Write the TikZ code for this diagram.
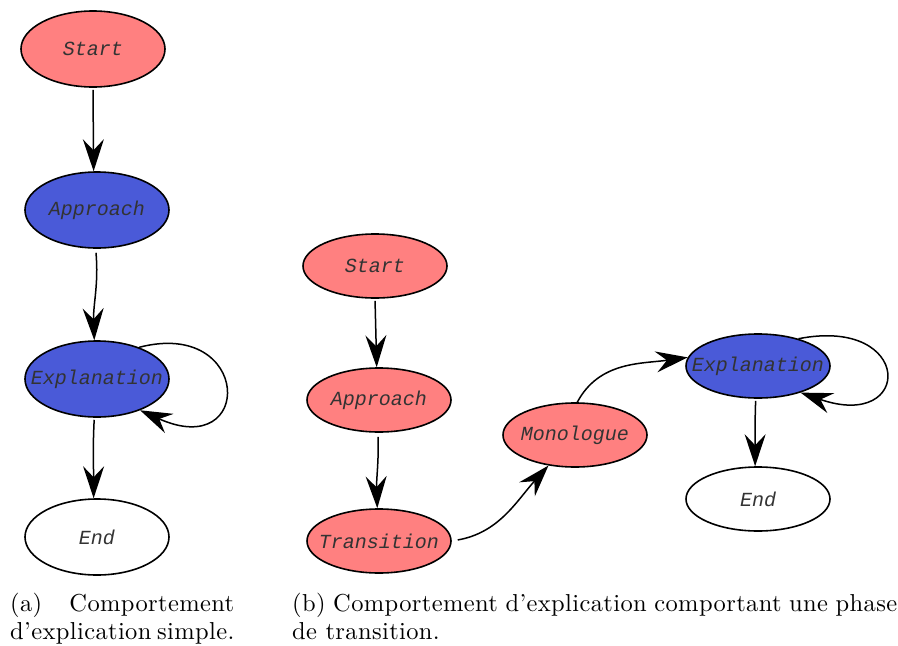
\documentclass[tikz,border=0pt]{standalone}
\usepackage{fontspec}
\usetikzlibrary{arrows.meta,calc,shapes.geometric}
\newfontfamily\gvfont{Liberation Mono}
\newfontfamily\capfont{lmroman10-regular}[Extension=.otf, Ligatures=TeX, LetterSpace=1.5]
\definecolor{statepink}{HTML}{FF8080}
\definecolor{stateblue}{HTML}{4A5AD8}
\definecolor{labelgray}{HTML}{333333}
% state labels never widen their ellipse
\newcommand\statelabel[1]{\makebox[0pt]{#1}}
\begin{document}
\tolerance=9999
\hyphenpenalty=10000
\exhyphenpenalty=10000
\begin{tikzpicture}[x=1pt,y=-1pt,
  state/.style={ellipse, draw=black, line width=1.6pt, inner sep=0pt,
    minimum width=144pt, font=\gvfont\itshape\fontsize{20}{20}\selectfont,
    text=labelgray},
  tall/.style={minimum height=76pt},
  flat/.style={minimum height=64pt},
  pinkstate/.style={state, fill=statepink},
  bluestate/.style={state, fill=stateblue},
  whitestate/.style={state, fill=white},
  gv/.style={line width=1.5pt, -{Stealth[length=32pt,width=21pt,inset=11pt]}},
  caption/.style={anchor=north west, inner sep=0pt, align=justify,
    font=\capfont\fontsize{24.5}{28}\selectfont}
]
\useasboundingbox (0,0) rectangle (898,646);

% (a) simple explanation behaviour
\node[pinkstate, tall]  (s1) at (93,49)  {\statelabel{Start}};
\node[bluestate, tall]  (a1) at (97,210) {\statelabel{Approach}};
\node[bluestate, tall]  (x1) at (97,379) {\statelabel{Explanation}};
\node[whitestate, tall] (e1) at (97,537) {\statelabel{End}};

\draw[gv, shorten <=2pt] (s1.south) -- (a1.95);
\draw[gv, shorten <=4pt] (a1.268) to[out=-85,in=92] (x1.94);
\draw[gv] (x1.37) .. controls (252,318) and (255,462) .. (x1.-36);
\draw[gv, shorten <=2pt] (x1.266) to[out=-93,in=90] (e1.95);

% (b) explanation behaviour with a transition phase
\node[pinkstate, flat]  (s2) at (375,266) {\statelabel{Start}};
\node[pinkstate, flat]  (a2) at (379,400) {\statelabel{Approach}};
\node[pinkstate, flat]  (t2) at (379,541) {\statelabel{Transition}};
\node[pinkstate, flat]  (m2) at (575,435) {\statelabel{Monologue}};
\node[bluestate, flat]  (x2) at (758,366) {\statelabel{Explanation}};
\node[whitestate, flat] (e2) at (758,499) {\statelabel{End}};

\draw[gv, shorten <=2pt] (s2.south) -- (a2.94);
\draw[gv, shorten <=4pt] (a2.268) to[out=-88,in=92] (t2.93);
\draw[gv, shorten <=6pt] (t2.east) to[out=10,in=228] (m2.229);
\draw[gv] (m2.86) to[out=62,in=188] (x2.173);
\draw[gv] (x2.34) .. controls (914,316) and (914,432) .. (x2.-32);
\draw[gv, shorten <=2pt] (x2.266) to[out=-92,in=90] (e2.95);

% sub-figure captions
\node[caption, text width=224pt] (capa) at (10,593)
  {(a) Comportement d'explication simple.};
\node[caption, text width=605pt] (capb) at (292,593)
  {(b) Comportement d'explication comportant une phase de transition.};
\end{tikzpicture}
\end{document}
